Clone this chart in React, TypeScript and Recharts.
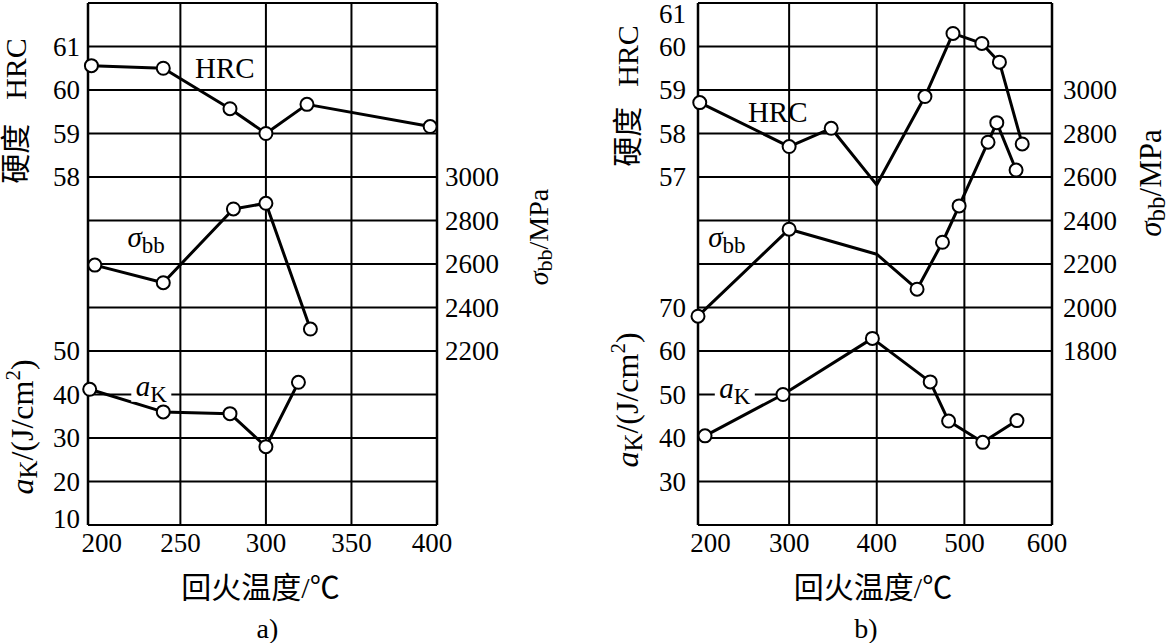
import React from "react";
import {
  LineChart,
  Line,
  XAxis,
  YAxis,
  CartesianGrid,
  ReferenceDot,
  Label,
} from "recharts";

const FONT = '"Liberation Serif", "Times New Roman", "Noto Sans CJK SC", serif';
const INK = "#000";
const CHART_W = 584;
const CHART_H = 643;

// ---- panel a) ----
const tempTicksA = [200, 250, 300, 350, 400];
const tempGridA = [250, 300, 350];
const hrcTicksA = [58, 59, 60, 61];
const hrcRowsA = [50, 51, 52, 53, 54, 55, 56, 57, 58, 59, 60, 61, 62];
const akTicksA = [10, 20, 30, 40, 50];
const sbTicksA = [2200, 2400, 2600, 2800, 3000];

const hrcTempA = [198, 240, 279, 300, 324, 396];
const hrcA = [60.56, 60.5, 59.57, 59.0, 59.67, 59.16];
const sbTempA = [200, 240, 281, 300, 326];
const sbA = [2595, 2514, 2853, 2879, 2301];
const akTempA = [197, 240, 279, 300, 319];
const akA = [41.2, 36.0, 35.6, 28.0, 42.8];

// ---- panel b) ----
const tempTicksB = [200, 300, 400, 500, 600];
const tempGridB = [300, 400, 500];
const hrcTicksB = [57, 58, 59, 60, 61];
const hrcRowsB = [49, 50, 51, 52, 53, 54, 55, 56, 57, 58, 59, 60, 61];
const akTicksB = [30, 40, 50, 60, 70];
const sbTicksB = [1800, 2000, 2200, 2400, 2600, 2800, 3000];

const hrcTempB = [198, 300, 348, 400, 455, 487, 520, 540, 566];
const hrcB = [58.71, 57.7, 58.12, 56.82, 58.85, 60.3, 60.07, 59.64, 57.76];
const sbTempB = [196, 300, 400, 446, 475, 494, 527, 537, 559];
const sbB = [1960, 2360, 2245, 2084, 2300, 2467, 2760, 2850, 2632];
const akTempB = [204, 293, 395, 461, 482, 521, 560];
const akB = [40.5, 50.0, 62.9, 52.9, 43.9, 39.0, 44.0];
// vertices drawn without a circle
const plainTempB = [400];

type Pt = { t: number; v: number };
const pair = (ts: number[], vs: number[]): Pt[] => ts.map((t, i) => ({ t, v: vs[i] }));

const ringDot = (plain: number[]) => (p: any) => {
  if (plain.includes(p.payload.t)) return <g key={`d${p.index}`} />;
  return (
    <circle key={`d${p.index}`} cx={p.cx} cy={p.cy} r={6.5} fill="#fff" stroke={INK} strokeWidth={2} />
  );
};

// edge = x of the plot border the labels hang from
const yTick = (anchor: "start" | "end", edge: number, gap: number) => (t: any) => (
  <text
    x={anchor === "end" ? edge - gap : edge + gap}
    y={Math.min(Math.max(t.y, 14), 519)}
    dy="0.34em"
    textAnchor={anchor}
    fontFamily={FONT}
    fontSize={27}
    fill={INK}
  >
    {t.payload.value}
  </text>
);

const xTick = (ticks: number[], nudge: [number, number]) => (t: any) => {
  const v = t.payload.value;
  const dx = v === ticks[0] ? nudge[0] : v === ticks[ticks.length - 1] ? nudge[1] : 0;
  return (
    <text x={t.x + dx} y={t.y} dy={27} textAnchor="middle" fontFamily={FONT} fontSize={27} fill={INK}>
      {v}
    </text>
  );
};

// rotated axis titles
const hrcTitle = (x: number, y: number, gap: number) => () => (
  <text
    x={x}
    y={y}
    transform={`rotate(-90 ${x} ${y})`}
    textAnchor="middle"
    dominantBaseline="central"
    fontFamily={FONT}
    fontSize={30}
    fill={INK}
  >
    <tspan>硬度</tspan>
    <tspan dx={gap}>HRC</tspan>
  </text>
);

const akTitle = (x: number, y: number) => () => (
  <text
    x={x}
    y={y}
    transform={`rotate(-90 ${x} ${y})`}
    textAnchor="middle"
    dominantBaseline="central"
    fontFamily={FONT}
    fontSize={32}
    fill={INK}
  >
    <tspan fontStyle="italic">a</tspan>
    <tspan fontSize={25} dy={6}>K</tspan>
    <tspan dy={-6}>/(J/cm</tspan>
    <tspan fontSize={21} dy={-9}>2</tspan>
    <tspan dy={9}>)</tspan>
  </text>
);

const sbTitle = (x: number, y: number, size: number) => () => (
  <text
    x={x}
    y={y}
    transform={`rotate(-90 ${x} ${y})`}
    textAnchor="middle"
    dominantBaseline="central"
    fontFamily={FONT}
    fontSize={size}
    fill={INK}
  >
    <tspan fontStyle="italic">σ</tspan>
    <tspan fontSize={size - 6} dy={6}>bb</tspan>
    <tspan dy={-6}>/MPa</tspan>
  </text>
);

const xTitle = (caption: string, capDx: number) => (p: any) => {
  const cx = p.viewBox.x + p.viewBox.width / 2;
  return (
    <g fontFamily={FONT} fill={INK}>
      <text x={cx - 2} y={598} textAnchor="middle" fontSize={30}>
        回火温度/℃
      </text>
      <text x={cx + capDx} y={638} textAnchor="middle" fontSize={28}>
        {caption}
      </text>
    </g>
  );
};

// in-plot series names
const plainTag = (text: string) => (p: any) => (
  <text x={p.viewBox.x} y={p.viewBox.y} textAnchor="middle" fontFamily={FONT} fontSize={29} fill={INK}>
    {text}
  </text>
);

const subTag = (main: string, sub: string, knock: boolean) => (p: any) => {
  const { x, y } = p.viewBox;
  return (
    <g>
      {knock && <rect x={x - 20} y={y - 13} width={40} height={19} fill="#fff" />}
      <text x={x} y={y} textAnchor="middle" fontFamily={FONT} fontSize={29} fill={INK}>
        <tspan fontStyle="italic">{main}</tspan>
        <tspan fontSize={23} dy={6}>{sub}</tspan>
      </text>
    </g>
  );
};

type PanelProps = {
  left: number;
  margin: { top: number; right: number; bottom: number; left: number };
  tDomain: [number, number];
  tTicks: number[];
  tGrid: number[];
  tNudge: [number, number];
  hrcDomain: [number, number];
  hrcTicks: number[];
  hrcRows: number[];
  akDomain: [number, number];
  akTicks: number[];
  sbDomain: [number, number];
  sbTicks: number[];
  hrc: Pt[];
  sb: Pt[];
  ak: Pt[];
  plain: number[];
  tagHrc: [number, number];
  tagSb: [number, number];
  tagAk: [number, number];
  gapL: number;
  gapR: number;
  hrcT: [number, number, number];
  akT: [number, number];
  sbT: [number, number, number];
  caption: string;
  capDx: number;
};

const AXIS_W = 2;

function Panel(p: PanelProps) {
  const dot = ringDot(p.plain);
  const plotLeft = p.margin.left + 2 * AXIS_W;
  const plotRight = CHART_W - p.margin.right - 60;
  return (
    <div style={{ position: "absolute", left: p.left, top: 0 }}>
      <LineChart width={CHART_W} height={CHART_H} margin={p.margin}>
        <CartesianGrid
          yAxisId="hrc"
          horizontalValues={p.hrcRows}
          verticalValues={p.tGrid}
          stroke={INK}
          strokeWidth={2}
          fill="none"
        />
        <XAxis
          type="number"
          dataKey="t"
          domain={p.tDomain}
          ticks={p.tTicks}
          interval={0}
          axisLine={false}
          tickLine={false}
          tickSize={0}
          tickMargin={0}
          height={30}
          tick={xTick(p.tTicks, p.tNudge)}
          label={<Label content={xTitle(p.caption, p.capDx)} />}
        />
        <YAxis
          yAxisId="hrc"
          orientation="left"
          width={AXIS_W}
          type="number"
          domain={p.hrcDomain}
          ticks={p.hrcTicks}
          interval={0}
          axisLine={false}
          tickLine={false}
          tickSize={0}
          tickMargin={0}
          tick={yTick("end", plotLeft, p.gapL)}
          label={<Label content={hrcTitle(p.hrcT[0], p.hrcT[1], p.hrcT[2])} />}
        />
        <YAxis
          yAxisId="ak"
          orientation="left"
          width={AXIS_W}
          type="number"
          domain={p.akDomain}
          ticks={p.akTicks}
          interval={0}
          axisLine={false}
          tickLine={false}
          tickSize={0}
          tickMargin={0}
          tick={yTick("end", plotLeft, p.gapL)}
          label={<Label content={akTitle(p.akT[0], p.akT[1])} />}
        />
        <YAxis
          yAxisId="sb"
          orientation="right"
          width={60}
          type="number"
          domain={p.sbDomain}
          ticks={p.sbTicks}
          interval={0}
          axisLine={{ stroke: INK, strokeWidth: 2.5 }}
          tickLine={false}
          tickSize={0}
          tickMargin={0}
          tick={yTick("start", plotRight, p.gapR)}
          label={<Label content={sbTitle(p.sbT[0], p.sbT[1], p.sbT[2])} />}
        />
        <ReferenceDot
          yAxisId="hrc"
          x={p.tDomain[0]}
          y={p.hrcDomain[0]}
          r={0}
          fill="none"
          stroke="none"
          ifOverflow="visible"
          label={
            <Label
              content={(l: any) => (
                <line
                  x1={l.viewBox.x}
                  x2={l.viewBox.x}
                  y1={p.margin.top}
                  y2={l.viewBox.y}
                  stroke={INK}
                  strokeWidth={2.5}
                />
              )}
            />
          }
        />
        <Line
          yAxisId="hrc"
          data={p.hrc}
          dataKey="v"
          type="linear"
          stroke={INK}
          strokeWidth={3}
          strokeLinejoin="round"
          dot={dot}
          activeDot={false}
          isAnimationActive={false}
        />
        <Line
          yAxisId="sb"
          data={p.sb}
          dataKey="v"
          type="linear"
          stroke={INK}
          strokeWidth={3}
          strokeLinejoin="round"
          dot={dot}
          activeDot={false}
          isAnimationActive={false}
        />
        <Line
          yAxisId="ak"
          data={p.ak}
          dataKey="v"
          type="linear"
          stroke={INK}
          strokeWidth={3}
          strokeLinejoin="round"
          dot={dot}
          activeDot={false}
          isAnimationActive={false}
        />
        <ReferenceDot
          yAxisId="hrc"
          x={p.tagHrc[0]}
          y={p.tagHrc[1]}
          r={0}
          fill="none"
          stroke="none"
          label={<Label content={plainTag("HRC")} />}
        />
        <ReferenceDot
          yAxisId="sb"
          x={p.tagSb[0]}
          y={p.tagSb[1]}
          r={0}
          fill="none"
          stroke="none"
          label={<Label content={subTag("σ", "bb", false)} />}
        />
        <ReferenceDot
          yAxisId="ak"
          x={p.tagAk[0]}
          y={p.tagAk[1]}
          r={0}
          fill="none"
          stroke="none"
          label={<Label content={subTag("a", "K", true)} />}
        />
      </LineChart>
    </div>
  );
}

export default function App() {
  return (
    <div
      style={{
        position: "absolute",
        left: 0,
        top: 0,
        width: 1168,
        height: 643,
        background: "#fff",
        overflow: "hidden",
      }}
    >
      <Panel
        left={0}
        margin={{ top: 3, right: 87, bottom: 88, left: 88 - 2 * AXIS_W }}
        tDomain={[196, 400]}
        tTicks={tempTicksA}
        tGrid={tempGridA}
        tNudge={[7, -5]}
        hrcDomain={[50, 62]}
        hrcTicks={hrcTicksA}
        hrcRows={hrcRowsA}
        akDomain={[10, 130]}
        akTicks={akTicksA}
        sbDomain={[1400, 3800]}
        sbTicks={sbTicksA}
        hrc={pair(hrcTempA, hrcA)}
        sb={pair(sbTempA, sbA)}
        ak={pair(akTempA, akA)}
        plain={[]}
        tagHrc={[276, 60.28]}
        tagSb={[230, 2678]}
        tagAk={[233, 39.7]}
        gapL={8}
        gapR={8}
        hrcT={[15, 111, 24]}
        akT={[22, 427]}
        sbT={[538, 237, 28]}
        caption="a)"
        capDx={5}
      />
      <Panel
        left={584}
        margin={{ top: 3, right: 56, bottom: 88, left: 114 - 2 * AXIS_W }}
        tDomain={[196, 600]}
        tTicks={tempTicksB}
        tGrid={tempGridB}
        tNudge={[9, -5]}
        hrcDomain={[49, 61]}
        hrcTicks={hrcTicksB}
        hrcRows={hrcRowsB}
        akDomain={[20, 140]}
        akTicks={akTicksB}
        sbDomain={[1000, 3400]}
        sbTicks={sbTicksB}
        hrc={pair(hrcTempB, hrcB)}
        sb={pair(sbTempB, sbB)}
        ak={pair(akTempB, akB)}
        plain={plainTempB}
        tagHrc={[287, 58.26]}
        tagSb={[229, 2278]}
        tagAk={[238, 49.2]}
        gapL={12}
        gapR={11}
        hrcT={[43, 96, 20]}
        akT={[43, 400]}
        sbT={[566, 183, 31]}
        caption="b)"
        capDx={-9}
      />
    </div>
  );
}
